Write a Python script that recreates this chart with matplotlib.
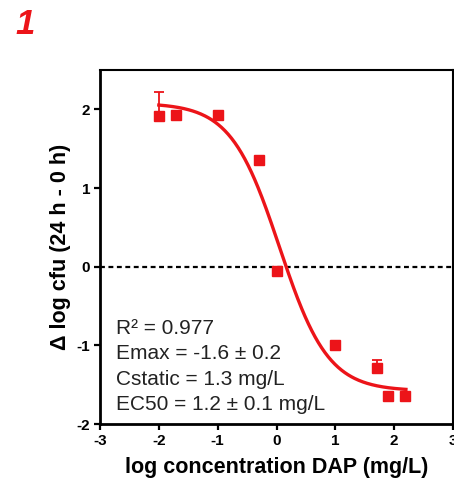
import numpy as np
import matplotlib
matplotlib.use("Agg")
import matplotlib.pyplot as plt

plt.rcParams['font.family'] = ['Liberation Sans', 'DejaVu Sans']
plt.rcParams['axes.unicode_minus'] = False

# measured points (log conc, delta log cfu)
log_conc = [-2.0, -1.7, -1.0, -0.3, 0.0, 1.0, 1.7, 1.9, 2.18]
delta_cfu = [1.92, 1.93, 1.93, 1.36, -0.05, -1.00, -1.29, -1.65, -1.65]
err_up = [0.30, 0.0, 0.0, 0.0, 0.05, 0.0, 0.10, 0.0, 0.0]

# fitted sigmoid Emax model
top, bottom, log_ec50, hill = 2.08, -1.58, 0.05, 1.05

stats_lines = ["R² = 0.977",
               "Emax = -1.6 ± 0.2",
               "Cstatic = 1.3 mg/L",
               "EC50 = 1.2 ± 0.1 mg/L"]

red = '#ec1419'

fig = plt.figure(figsize=(4.54, 4.82), dpi=100)
ax = fig.add_axes([100/454, 1-424/482, 353/454, 354/482])

xs = np.linspace(-2.0, 2.2, 300)
ys = bottom + (top - bottom) / (1 + 10 ** ((xs - log_ec50) * hill))
ax.plot(xs, ys, color=red, lw=2.4, zorder=3)

ax.axhline(0, color='black', lw=1.6, ls=(0, (2.2, 1.6)), zorder=1)

ax.errorbar(log_conc, delta_cfu, yerr=[np.zeros(len(err_up)), err_up],
            fmt='s', color=red, ms=6.8, elinewidth=1.3, capsize=3.5,
            capthick=1.3, zorder=4)

ax.set_xlim(-3, 3)
ax.set_ylim(-2, 2.5)
ax.set_xticks([-3, -2, -1, 0, 1, 2, 3])
ax.set_yticks([-2, -1, 0, 1, 2])
ax.tick_params(direction='out', length=4.5, width=1.6, labelsize=11, pad=2.5)
for lab in ax.get_xticklabels() + ax.get_yticklabels():
    lab.set_fontweight('bold')
for side in ['left', 'bottom']:
    ax.spines[side].set_linewidth(2.0)
for side in ['top', 'right']:
    ax.spines[side].set_linewidth(1.5)

ax.set_xlabel("log concentration DAP (mg/L)", fontsize=15.5, fontweight='bold', labelpad=7)
ax.set_ylabel("Δ log cfu (24 h - 0 h)", fontsize=15.5, fontweight='bold', labelpad=4)

ax.text(0.045, 0.028, "\n".join(stats_lines), transform=ax.transAxes,
        fontsize=15, linespacing=1.42, va='bottom', ha='left', color='#222222')

fig.text(15/454, 1-34/482, "1", color=red, fontsize=25, fontweight='bold',
         fontstyle='italic', ha='left', va='baseline')

fig.savefig("out.png", dpi=100)
